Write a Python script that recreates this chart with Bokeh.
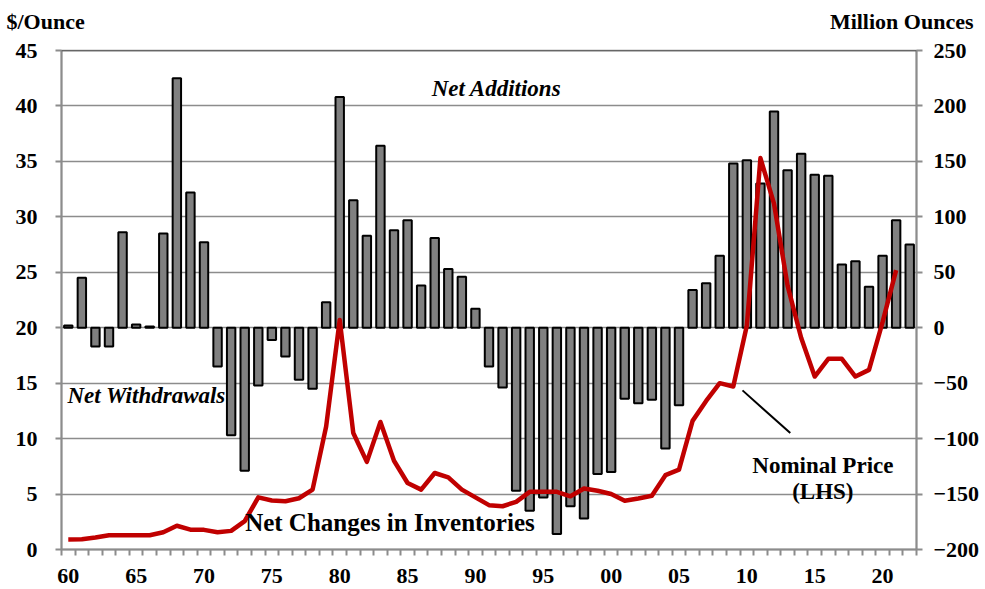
from bokeh.plotting import figure
from bokeh.models import Range1d, LinearAxis, FixedTicker, Label, Span
from bokeh.embed import file_html
from bokeh.resources import INLINE

years = list(range(1960, 2023))
inventory_change = [2, 45, -17, -17, 86, 3, 1, 85, 225, 122, 77,
                    -35, -97, -129, -52, -11, -26, -47, -55, 23, 208,
                    115, 83, 164, 88, 97, 38, 81, 53, 46, 17,
                    -35, -54, -147, -165, -153, -186, -161, -172, -132, -130,
                    -64, -68, -65, -109, -70, 34, 40, 65, 148, 151,
                    130, 195, 142, 157, 138, 137, 57, 60, 37, 65,
                    97, 75]
price_years = list(range(1960, 2022))
price = [0.91, 0.92, 1.08, 1.28, 1.29, 1.29, 1.29, 1.55, 2.14, 1.79, 1.77,
         1.55, 1.68, 2.56, 4.70, 4.42, 4.35, 4.62, 5.40, 11.1, 20.7,
         10.5, 7.9, 11.5, 8.0, 6.0, 5.4, 6.9, 6.5, 5.4, 4.7,
         4.0, 3.9, 4.3, 5.2, 5.2, 5.2, 4.8, 5.5, 5.3, 5.0,
         4.4, 4.6, 4.85, 6.7, 7.2, 11.6, 13.4, 15.0, 14.7, 20.2,
         35.3, 31.2, 23.8, 19.1, 15.6, 17.2, 17.2, 15.6, 16.2, 20.5,
         25.2]
x_tick_years = list(range(1960, 2021, 5))
x_tick_labels = ["60", "65", "70", "75", "80", "85", "90", "95", "00", "05", "10", "15", "20"]

FONT = "Liberation Serif"
GRID = "#8c8c8c"

p = figure(width=982, height=587, output_backend="svg", toolbar_location=None,
           x_range=Range1d(1959.5, 2022.5), y_range=Range1d(0, 45),
           min_border_left=61, min_border_right=62, min_border_top=49, min_border_bottom=38)
p.extra_y_ranges = {"r": Range1d(-200, 250)}
p.outline_line_color = GRID
p.outline_line_width = 1.5
p.background_fill_color = "white"
p.border_fill_color = "white"

p.yaxis[0].ticker = FixedTicker(ticks=list(range(0, 46, 5)))
ry = LinearAxis(y_range_name="r", ticker=FixedTicker(ticks=list(range(-200, 251, 50))))
p.add_layout(ry, "right")

for ax in [p.yaxis[0], ry]:
    ax.axis_line_color = GRID
    ax.axis_line_width = 2
    ax.major_tick_line_color = GRID
    ax.major_tick_line_width = 2
    ax.major_tick_out = 6
    ax.major_tick_in = 0
    ax.minor_tick_line_color = None
    ax.major_label_text_font = FONT
    ax.major_label_text_font_style = "bold"
    ax.major_label_text_font_size = "22px"
    ax.major_label_text_color = "black"
p.yaxis[0].major_label_standoff = 18
ry.major_label_standoff = 11

xa = p.xaxis[0]
xa.ticker = FixedTicker(ticks=x_tick_years, minor_ticks=[y - 0.5 for y in years] + [2022.5])
xa.major_label_overrides = {y: l for y, l in zip(x_tick_years, x_tick_labels)}
xa.axis_line_color = GRID
xa.axis_line_width = 2
xa.major_tick_line_color = None
xa.major_tick_out = 0
xa.major_tick_in = 0
xa.minor_tick_line_color = GRID
xa.minor_tick_line_width = 2
xa.minor_tick_out = 6
xa.minor_tick_in = 0
xa.major_label_standoff = 13
xa.major_label_text_font = FONT
xa.major_label_text_font_style = "bold"
xa.major_label_text_font_size = "22px"
xa.major_label_text_color = "black"

p.xgrid.grid_line_color = None
p.ygrid.grid_line_color = GRID
p.ygrid.grid_line_width = 1.5
p.ygrid.ticker = FixedTicker(ticks=list(range(5, 46, 5)))

p.add_layout(Span(location=45, dimension="width", line_color="#404040", line_width=1.5))

# bars
p.vbar(x=years, top=inventory_change, bottom=0, width=0.62, y_range_name="r",
       fill_color="#808080", line_color="black", line_width=2)

# price line
p.line(price_years, price, line_color="#C00000", line_width=4.5, line_join="round")

# annotation pointer
p.line([2009.68, 2013.2], [14.35, 10.5], line_color="black", line_width=2)

def mklab(x, y, t, align="center", style="bold", base="middle", size="23px", units="data"):
    return Label(x=x, y=y, text=t, text_font=FONT, text_font_style=style,
                 text_font_size=size, text_align=align, text_baseline=base,
                 text_color="black", x_units=units, y_units=units)

p.add_layout(mklab(1991.56, 41.6, "Net Additions", style="bold italic"))
p.add_layout(mklab(1959.94, 13.9, "Net Withdrawals", align="left", style="bold italic"))
p.add_layout(mklab(1983.7, 2.4, "Net Changes in Inventories", size="25px"))
p.add_layout(mklab(2015.6, 7.6, "Nominal Price"))
p.add_layout(mklab(2015.6, 5.2, "(LHS)"))
# axis titles in the top panel (screen units relative to each label's own slot there)
p.add_layout(mklab(-55, 29, "$/Ounce", align="left", size="22px", units="screen"), "above")
p.add_layout(mklab(912, 4, "Million Ounces", align="right", size="22px", units="screen"), "above")

open("out.html", "w").write(file_html(p, INLINE))
